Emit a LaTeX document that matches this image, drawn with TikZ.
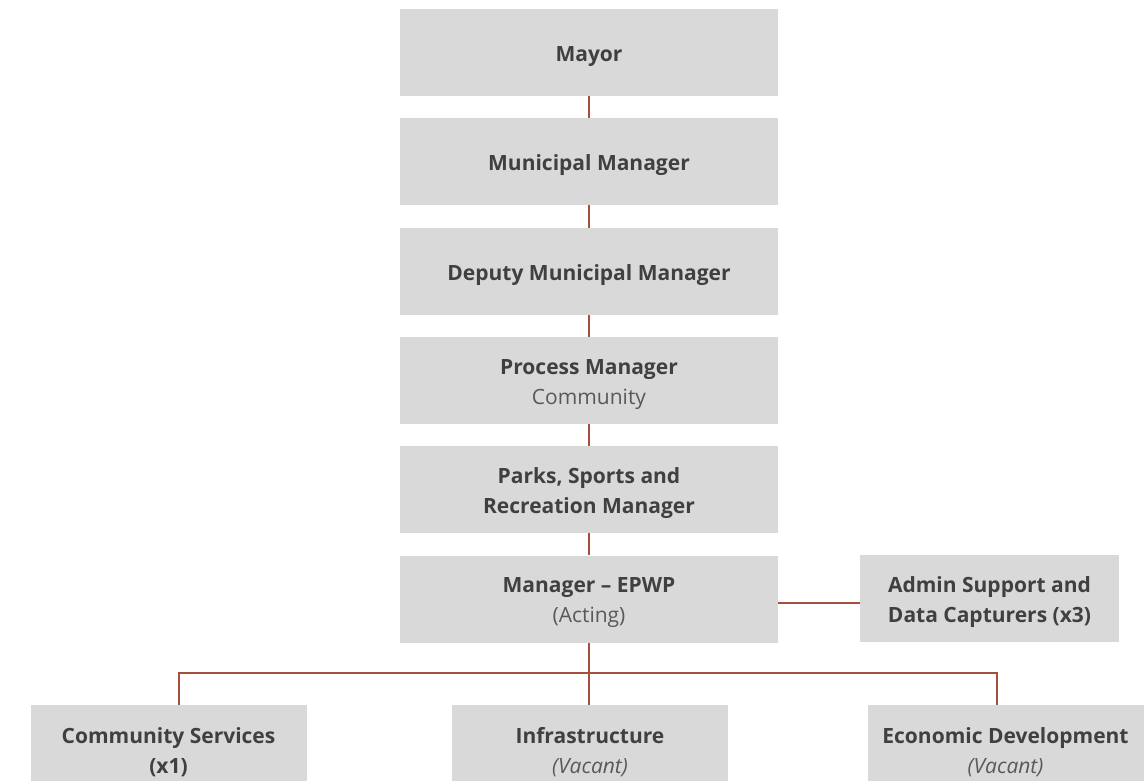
\documentclass[tikz,border=0pt]{standalone}
\usepackage{fontspec}
\setmainfont{Open Sans}
\usepackage{xcolor}
\definecolor{boxgray}{HTML}{D9D9D9}
\definecolor{textgray}{HTML}{404040}
\definecolor{subgray}{HTML}{595959}
\definecolor{linkred}{HTML}{A4503D}
\newcommand{\lift}{\rule{0pt}{23pt}}

\begin{document}
\begin{tikzpicture}[x=1pt, y=-1pt,
    every node/.style={font=\fontsize{21}{30}\selectfont\bfseries, text=textgray},
    post/.style={fill=boxgray, minimum width=378pt, minimum height=87pt, align=center, inner sep=0pt},
    side/.style={post, minimum width=259pt},
    unit/.style={post, minimum width=276pt},
    link/.style={draw=linkred, line width=2pt}]
  \useasboundingbox (0,0) rectangle (1144,781);
  \node[post] (mayor)  at (589,52.5)  {\lift Mayor};
  \node[post] (mm)     at (589,161.5) {\lift Municipal Manager};
  \node[post] (dmm)    at (589,271.5) {\lift Deputy Municipal Manager};
  \node[post] (pm)     at (589,380.5) {\lift Process Manager\\{\mdseries\color{subgray}Community}};
  \node[post] (parks)  at (589,489.5) {\lift Parks, Sports and\\Recreation Manager};
  \node[post] (epwp)   at (589,599)   {\lift Manager -- EPWP\\{\mdseries\color{subgray}(Acting)}};
  \node[side] (admin)  at (989.5,598.5) {\lift Admin Support and\\Data Capturers (x3)};
  \node[unit] (cs)     at (168.5,748.5) {\lift Community Services\\(x1)};
  \node[unit] (infra)  at (590,748.5)   {\lift Infrastructure\\{\mdseries\itshape\color{subgray}(Vacant)}};
  \node[unit] (ed)     at (1005.5,748.5) {\lift Economic Development\\{\mdseries\itshape\color{subgray}(Vacant)}};
  % reporting line down the middle
  \draw[link] (mayor) -- (mm);
  \draw[link] (mm) -- (dmm);
  \draw[link] (dmm) -- (pm);
  \draw[link] (pm) -- (parks);
  \draw[link] (parks) -- (epwp);
  \draw[link] ([yshift=-4pt]epwp.east) -- ([yshift=-4pt]epwp.east -| admin.west);
  % bus to the three units
  \coordinate (bus) at (589,673);
  \draw[link] (epwp.south) -- (bus) -- (bus |- infra.north);
  \draw[link] ([xshift=10.5pt]cs.north) |- (bus) -| ([xshift=-8.5pt]ed.north);
\end{tikzpicture}
\end{document}
